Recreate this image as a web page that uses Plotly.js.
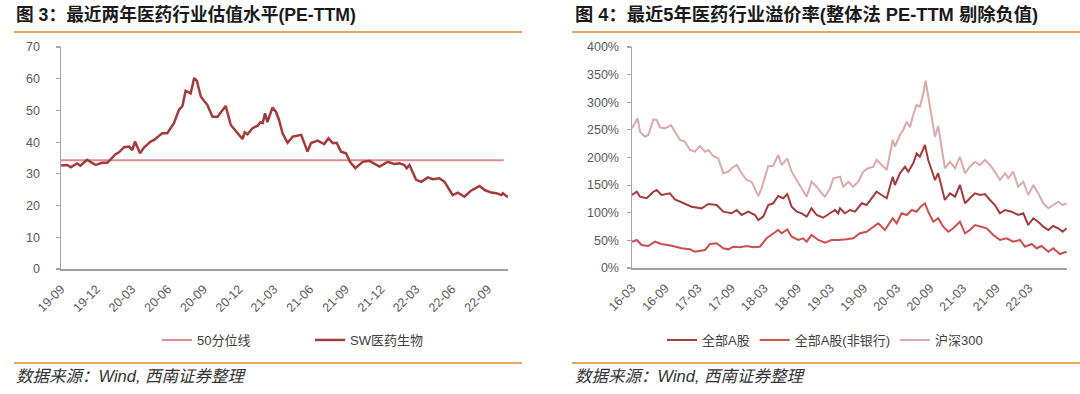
<!DOCTYPE html>
<html>
<head>
<meta charset="utf-8">
<script src="https://cdn.plot.ly/plotly-3.0.1.min.js"></script>
<style>
html,body{margin:0;padding:0;background:#fff;}
#chart{width:1080px;height:394px;}
</style>
</head>
<body>
<div id="chart"></div>
<script>
// ---------- Figure 3: SW医药生物 PE-TTM ----------
const swDates = ['2019-09-01','2019-09-17','2019-09-26','2019-10-12','2019-10-21','2019-11-07','2019-11-29','2019-12-16','2019-12-29',
 '2020-01-19','2020-01-28','2020-02-10','2020-02-23','2020-03-02','2020-03-09','2020-03-22','2020-04-01','2020-04-18','2020-04-27',
 '2020-05-18','2020-05-31','2020-06-17','2020-06-30','2020-07-09','2020-07-17','2020-07-30','2020-08-08','2020-08-15','2020-08-25',
 '2020-09-11','2020-09-24','2020-10-07','2020-10-28','2020-11-10','2020-11-23','2020-12-10','2020-12-16','2020-12-23',
 '2021-01-05','2021-01-18','2021-01-25','2021-01-31','2021-02-06','2021-02-12','2021-02-25','2021-03-06','2021-03-14','2021-03-23',
 '2021-04-05','2021-04-18','2021-05-10','2021-05-26','2021-06-04','2021-06-21','2021-07-08','2021-07-19','2021-07-30','2021-08-09',
 '2021-08-20','2021-09-02','2021-09-12','2021-09-26','2021-10-15','2021-11-01','2021-11-27','2021-12-18',
 '2022-01-04','2022-01-17','2022-01-30','2022-02-05','2022-02-12','2022-03-01','2022-03-14','2022-03-31','2022-04-13','2022-04-30',
 '2022-05-13','2022-06-03','2022-06-16','2022-07-03','2022-07-20','2022-08-11','2022-08-24','2022-09-10','2022-09-23','2022-10-06',
 '2022-10-10','2022-10-23'];
const swValues = [32.6,32.8,32.1,33.3,32.6,34.4,32.8,33.5,33.5,
 36.2,36.8,38.4,38.6,37.5,40.2,36.5,38.3,40.2,40.7,
 42.8,42.8,46.0,50.2,51.4,56.2,55.4,60.2,59.3,54.4,
 51.7,48.0,48.0,51.4,45.4,43.5,41.0,43.1,42.5,
 44.4,45.2,46.3,46.0,49.1,46.3,50.9,49.6,47.0,42.8,
 39.8,41.7,42.3,37.0,39.7,40.5,39.4,41.2,39.7,39.8,
 37.0,36.5,33.8,31.8,33.8,34.1,32.3,33.8,
 33.1,33.3,32.8,31.8,32.8,28.1,27.5,28.9,28.3,28.6,
 27.5,23.3,24.1,22.8,24.7,26.2,24.9,24.1,23.9,23.3,
 23.9,22.6];
const medianDates = ['2019-09-01','2022-10-12'];
const medianValues = [34.3,34.3];
const leftTicks = ['2019-09-01','2019-12-01','2020-03-01','2020-06-01','2020-09-01','2020-12-01','2021-03-01',
 '2021-06-01','2021-09-01','2021-12-01','2022-03-01','2022-06-01','2022-09-01'];

// ---------- Figure 4: premium rates (%) ----------
const hsDates = ['2016-03-01','2016-03-17','2016-04-01','2016-04-14','2016-05-12','2016-05-30','2016-06-27','2016-07-15','2016-08-02',
 '2016-08-30','2016-10-02','2016-10-24','2016-11-21','2016-12-18','2017-01-15','2017-02-11','2017-03-11','2017-04-08','2017-04-26',
 '2017-05-23','2017-06-20','2017-07-18','2017-08-14','2017-09-02','2017-09-30','2017-10-27','2017-11-24','2017-12-21',
 '2018-01-27','2018-02-15','2018-03-23','2018-04-19','2018-05-17','2018-06-05','2018-07-06','2018-07-30','2018-08-27','2018-09-23',
 '2018-10-21','2018-11-17','2018-12-15','2019-01-12','2019-01-30','2019-02-27','2019-03-17','2019-04-23','2019-05-11','2019-06-08',
 '2019-07-05','2019-08-02','2019-08-29','2019-09-26','2019-10-24','2019-11-11','2019-12-09','2020-01-06','2020-02-08','2020-02-20',
 '2020-03-19','2020-04-06','2020-04-25','2020-05-13','2020-05-31','2020-06-19','2020-07-07','2020-07-26','2020-08-08','2020-08-22',
 '2020-09-10','2020-09-28','2020-10-16','2020-11-04','2020-11-22','2020-12-20','2021-01-17','2021-02-13','2021-03-13','2021-04-09',
 '2021-05-07','2021-06-04','2021-07-01','2021-07-29','2021-08-25','2021-09-22','2021-10-20','2021-11-07','2021-12-04',
 '2022-01-01','2022-01-29','2022-02-25','2022-03-25','2022-04-21','2022-05-19','2022-06-16','2022-07-13','2022-08-10','2022-09-03',
 '2022-09-25'];
const hs300 = [252.8,261.9,270.9,246.7,237.6,240.7,269.1,267.9,254.7,
 252.8,258.8,246.7,231.7,228.6,213.6,210.5,220.8,210.5,213.6,
 202.7,198.6,171.4,174.3,180.5,186.4,171.4,159.3,156.2,
 130.3,144.3,184.6,184.6,204.5,186.4,198.6,174.3,159.3,144.3,
 129.1,156.2,147.1,135.2,129.1,144.3,162.3,165.3,147.1,156.2,
 147.1,156.2,174.3,180.5,183.4,195.5,186.4,177.4,231.7,219.6,
 240.7,249.8,264.8,254.7,276.9,295.0,292.0,316.2,339.0,310.1,
 267.9,237.6,257.0,213.6,180.5,192.4,180.5,201.4,171.4,183.4,
 192.4,186.4,195.5,186.4,174.3,159.3,171.4,162.3,174.3,
 147.1,156.2,132.1,150.2,135.2,117.1,108.0,114.0,120.0,114.0,
 117.1];

const allADates = ['2016-03-01','2016-03-27','2016-04-14','2016-05-21','2016-06-27','2016-07-15','2016-08-11','2016-09-26','2016-10-24',
 '2016-12-09','2017-01-24','2017-03-20','2017-04-26','2017-06-11','2017-07-18','2017-09-02','2017-09-30','2017-10-27','2017-12-03',
 '2018-01-09','2018-01-27','2018-02-23','2018-03-23','2018-04-19','2018-05-17','2018-06-14','2018-07-06','2018-07-30','2018-08-27',
 '2018-09-23','2018-10-21','2018-11-17','2018-12-15','2019-01-20','2019-02-27','2019-03-26','2019-04-13','2019-04-23','2019-05-20',
 '2019-06-17','2019-07-15','2019-08-21','2019-09-17','2019-10-15','2019-11-11','2019-12-09','2020-01-06','2020-02-08','2020-02-20',
 '2020-03-19','2020-04-16','2020-05-04','2020-05-31','2020-06-19','2020-07-07','2020-08-04','2020-08-22','2020-09-10','2020-09-28',
 '2020-10-16','2020-11-04','2020-11-22','2020-12-20','2021-01-17','2021-02-13','2021-03-13','2021-04-09','2021-05-07','2021-06-04',
 '2021-07-01','2021-07-29','2021-08-25','2021-09-22','2021-10-20','2021-11-25','2022-01-01','2022-01-29','2022-02-25','2022-03-25',
 '2022-04-21','2022-05-19','2022-06-16','2022-07-13','2022-08-10','2022-09-03','2022-09-25'];
const allA = [132.1,138.1,129.1,126.2,138.1,141.2,132.1,135.2,124.3,
 118.2,111.0,108.0,115.8,114.0,101.9,99.0,105.0,95.9,101.9,
 95.9,86.9,92.9,114.0,117.1,130.3,126.2,133.9,111.0,101.9,
 99.0,92.9,108.0,95.9,91.0,99.0,105.0,99.0,108.0,99.0,
 105.0,101.9,117.1,114.0,126.2,138.1,132.1,126.2,165.3,150.2,
 171.4,183.4,174.3,189.5,207.6,201.4,222.6,195.5,177.4,159.3,
 171.4,147.1,123.1,135.2,129.1,150.2,117.1,126.2,135.2,132.1,
 133.9,123.1,114.0,99.0,105.0,101.9,95.9,99.0,77.8,90.0,
 83.8,74.8,68.8,76.0,71.9,65.7,71.9];

const nbDates = ['2016-03-01','2016-03-27','2016-04-23','2016-05-30','2016-07-06','2016-08-11','2016-10-06','2016-11-30','2017-01-15',
 '2017-02-11','2017-04-08','2017-05-05','2017-06-11','2017-07-18','2017-08-14','2017-09-11','2017-10-18','2017-11-24','2017-12-30',
 '2018-02-05','2018-03-14','2018-04-11','2018-05-17','2018-06-05','2018-07-06','2018-07-30','2018-09-05','2018-10-02','2018-10-21',
 '2018-11-17','2018-12-24','2019-01-30','2019-03-08','2019-04-13','2019-04-23','2019-05-30','2019-07-05','2019-08-11','2019-09-17',
 '2019-10-24','2019-11-20','2019-12-27','2020-02-08','2020-03-01','2020-03-28','2020-04-25','2020-05-23','2020-06-19','2020-07-11',
 '2020-08-04','2020-08-22','2020-09-19','2020-10-16','2020-11-13','2020-12-11','2021-01-07','2021-02-13','2021-03-13','2021-04-09',
 '2021-05-07','2021-06-04','2021-07-11','2021-08-16','2021-09-22','2021-10-29','2021-12-04','2022-01-10','2022-02-07','2022-03-16',
 '2022-04-12','2022-05-10','2022-06-16','2022-07-13','2022-08-19','2022-09-25'];
const nonBank = [47.6,50.7,41.6,39.8,47.6,43.4,40.4,35.7,33.8,
 29.5,32.6,43.4,44.7,35.7,33.8,38.6,37.5,39.8,37.5,
 38.6,53.8,59.7,68.8,62.8,70.0,56.7,50.7,53.8,47.6,
 59.7,50.7,45.8,50.7,50.7,50.7,51.9,53.8,62.8,65.7,
 74.8,80.9,68.8,90.0,80.9,99.0,95.9,105.0,101.9,111.0,
 117.1,101.9,83.8,90.0,74.8,65.7,71.9,83.8,62.8,68.8,
 77.8,74.8,71.9,59.7,50.7,53.8,47.6,50.7,38.6,43.4,
 35.7,39.8,29.5,35.7,25.3,29.5];
const rightTicks = ['2016-03-01','2016-09-01','2017-03-01','2017-09-01','2018-03-01','2018-09-01','2019-03-01',
 '2019-09-01','2020-03-01','2020-09-01','2021-03-01','2021-09-01','2022-03-01'];

// ---------- styling ----------
const LAT = 'Liberation Sans, Arial, Noto Sans CJK SC, sans-serif';
const CJK = 'Liberation Sans, Noto Sans CJK SC, sans-serif';
const tickFont = {family: LAT, size: 12.5, color: '#595959'};
const W = 1080, H = 394;
const px = v => v / W, py = v => (H - v) / H;

const traces = [
  {x: medianDates, y: medianValues, name: '50分位线', type: 'scatter', mode: 'lines',
   line: {color: '#d88c8f', width: 2}, xaxis: 'x', yaxis: 'y', legend: 'legend'},
  {x: swDates, y: swValues, name: 'SW医药生物', type: 'scatter', mode: 'lines',
   line: {color: '#a33b3c', width: 2.5}, xaxis: 'x', yaxis: 'y', legend: 'legend'},
  {x: allADates, y: allA, name: '全部A股', type: 'scatter', mode: 'lines',
   line: {color: '#a33b3c', width: 2}, xaxis: 'x2', yaxis: 'y2', legend: 'legend2'},
  {x: nbDates, y: nonBank, name: '全部A股(非银行)', type: 'scatter', mode: 'lines',
   line: {color: '#cc4e4f', width: 2}, xaxis: 'x2', yaxis: 'y2', legend: 'legend2'},
  {x: hsDates, y: hs300, name: '沪深300', type: 'scatter', mode: 'lines',
   line: {color: '#dcaaaa', width: 2}, xaxis: 'x2', yaxis: 'y2', legend: 'legend2'}
];

const xBase = {type: 'date', tickformat: '%y-%m', tickangle: -45, showgrid: false, zeroline: false,
  showline: true, linecolor: '#a0a0a0', linewidth: 2, ticks: '', tickfont: tickFont, ticklabelstandoff: 6};
const yBase = {showgrid: false, zeroline: false, showline: true, linecolor: '#a6a6a6', linewidth: 1.5,
  ticks: 'outside', ticklen: 4, tickcolor: '#a6a6a6', tickwidth: 1.2, tickfont: tickFont};

const orange = '#e3a85e';
const layout = {
  width: W, height: H, margin: {l: 0, r: 0, t: 0, b: 0},
  paper_bgcolor: '#fff', plot_bgcolor: '#fff', showlegend: true,
  xaxis: Object.assign({}, xBase, {domain: [px(61), px(508)], anchor: 'y', range: ['2019-09-01', '2022-10-23'], tickvals: leftTicks}),
  yaxis: Object.assign({}, yBase, {domain: [py(269), py(47)], anchor: 'x', range: [0, 70], dtick: 10, ticklabelstandoff: 13}),
  xaxis2: Object.assign({}, xBase, {domain: [px(632), px(1067)], anchor: 'y2', range: ['2016-03-01', '2022-09-27'], tickvals: rightTicks}),
  yaxis2: Object.assign({}, yBase, {domain: [py(268), py(47)], anchor: 'x2', range: [0, 400], dtick: 50, ticksuffix: '%', ticklabelstandoff: 5}),
  legend: {orientation: 'h', x: px(157), y: py(340), xanchor: 'left', yanchor: 'middle',
    font: {family: CJK, size: 13, color: '#404040'}, bgcolor: 'rgba(0,0,0,0)', itemwidth: 30,
    entrywidth: 108, entrywidthmode: 'pixels'},
  legend2: {orientation: 'h', x: px(662), y: py(340), xanchor: 'left', yanchor: 'middle',
    font: {family: CJK, size: 13, color: '#404040'}, bgcolor: 'rgba(0,0,0,0)', itemwidth: 30},
  shapes: [
    {type: 'line', xref: 'paper', yref: 'paper', x0: px(14), x1: px(522), y0: py(32), y1: py(32), line: {color: orange, width: 2}},
    {type: 'line', xref: 'paper', yref: 'paper', x0: px(572), x1: px(1080), y0: py(32), y1: py(32), line: {color: orange, width: 2}},
    {type: 'line', xref: 'paper', yref: 'paper', x0: px(14), x1: px(522), y0: py(363), y1: py(363), line: {color: orange, width: 2}},
    {type: 'line', xref: 'paper', yref: 'paper', x0: px(572), x1: px(1080), y0: py(363), y1: py(363), line: {color: orange, width: 2}}
  ],
  annotations: [
    {text: '图 3：最近两年医药行业估值水平(PE-TTM)', xref: 'paper', yref: 'paper', x: px(14), y: py(15),
     xanchor: 'left', yanchor: 'middle', showarrow: false, font: {family: CJK, size: 17.7, color: '#1a1a1a', weight: 'bold'}},
    {text: '图 4：最近5年医药行业溢价率(整体法 PE-TTM 剔除负值)', xref: 'paper', yref: 'paper', x: px(573), y: py(15),
     xanchor: 'left', yanchor: 'middle', showarrow: false, font: {family: CJK, size: 18.3, color: '#1a1a1a', weight: 'bold'}},
    {text: '数据来源：Wind, 西南证券整理', xref: 'paper', yref: 'paper', x: px(14), y: py(376),
     xanchor: 'left', yanchor: 'middle', showarrow: false, font: {family: CJK, size: 16.5, color: '#333333', style: 'italic'}},
    {text: '数据来源：Wind, 西南证券整理', xref: 'paper', yref: 'paper', x: px(573), y: py(376),
     xanchor: 'left', yanchor: 'middle', showarrow: false, font: {family: CJK, size: 16.5, color: '#333333', style: 'italic'}}
  ]
};

Plotly.newPlot('chart', traces, layout, {displayModeBar: false, staticPlot: true});
</script>
</body>
</html>
